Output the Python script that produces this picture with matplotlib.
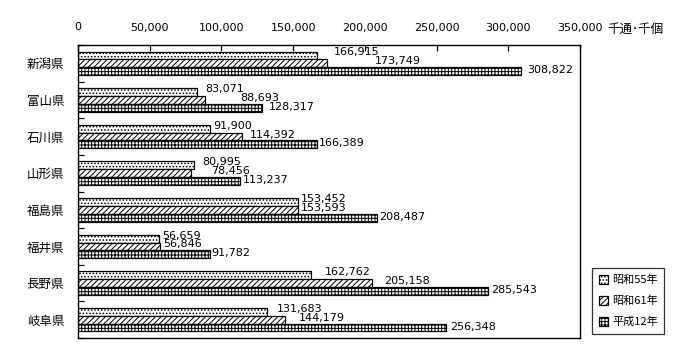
import matplotlib
matplotlib.use("Agg")
import matplotlib.pyplot as plt
import numpy as np

plt.rcParams['font.family'] = ['Noto Sans CJK JP', 'DejaVu Sans']
plt.rcParams['hatch.linewidth'] = 0.7

prefectures = ["新潟県", "富山県", "石川県", "山形県", "福島県", "福井県", "長野県", "岐阜県"]
series_names = ["昭和55年", "昭和61年", "平成12年"]
s55 = [166915, 83071, 91900, 80995, 153452, 56659, 162762, 131683]
s61 = [173749, 88693, 114392, 78456, 153593, 56846, 205158, 144179]
h12 = [308822, 128317, 166389, 113237, 208487, 91782, 285543, 256348]
x_ticks = [0, 50000, 100000, 150000, 200000, 250000, 300000, 350000]
unit_label = "千通･千個"

# label x-offsets in pixels (style), per series per prefecture
label_dx = [
    [16, 8, 3, 8, 3, 3, 13, 10],
    [48, 35, 8, 21, 3, 4, 12, 14],
    [6, 7, 2, 2, 2, 2, 4, 4],
]
label_dy = [3, 2, 1]

hatches = ['.....', '//////', '+++++']
fig = plt.figure(figsize=(7, 3.6), dpi=100)
ax = fig.add_axes([78/700, 1-338/360, 502/700, 293/360])

n = len(prefectures)
centers = np.arange(n) + 0.5
h = 0.215
offsets = [-h, 0, h]
for k, vals in enumerate([s55, s61, h12]):
    bars = ax.barh(centers + offsets[k], vals, height=h, color='white',
                   edgecolor='black', linewidth=0.9, hatch=hatches[k],
                   label=series_names[k])
    for i, (b, v) in enumerate(zip(bars, vals)):
        ax.annotate(f"{v:,}", xy=(v, centers[i] + offsets[k]),
                    xytext=(label_dx[k][i], label_dy[k]), textcoords='offset pixels',
                    ha='left', va='center', fontsize=8, family='DejaVu Sans')

ax.set_xlim(0, 350000)
ax.set_ylim(n, 0)
ax.xaxis.tick_top()
ax.set_xticks(x_ticks)
ax.set_xticklabels([f"{t:,}" for t in x_ticks], fontsize=8, family='DejaVu Sans')
ax.tick_params(axis='x', direction='in', length=4, pad=9, width=0.9)
ax.set_yticks(np.arange(n + 1))
ax.set_yticklabels([])
ax.tick_params(axis='y', which='major', direction='in', length=4, width=0.9)
ax.set_yticks(centers, minor=True)
ax.set_yticklabels(prefectures, minor=True, fontsize=9)
ax.tick_params(axis='y', which='minor', length=0, pad=10)
for s in ax.spines.values():
    s.set_linewidth(1.0)

fig.text(607/700, 1-29/360, unit_label, fontsize=9, ha='left', va='center')

leg = ax.legend(loc='lower left', frameon=True, fancybox=False, edgecolor='black',
                fontsize=8, handlelength=0.8, handleheight=0.8, handletextpad=0.4,
                borderpad=0.6, labelspacing=0.95, borderaxespad=0)
leg.get_frame().set_linewidth(0.9)
leg.set_bbox_to_anchor((592/700, 1-334/360), transform=fig.transFigure)

fig.savefig("out.png", dpi=100)
